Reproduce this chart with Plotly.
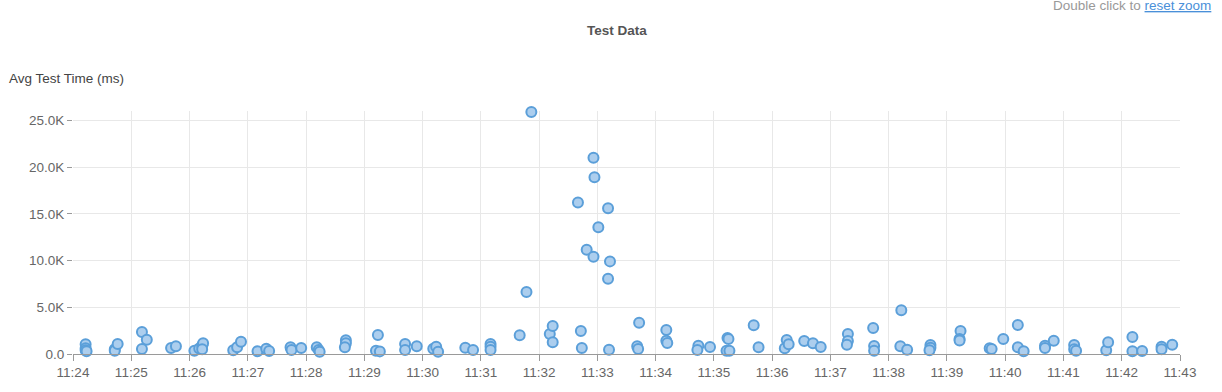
import plotly.graph_objects as go

DAY = "2024-01-01 "

times = [
    "11:24:13", "11:24:13", "11:24:13", "11:24:14", "11:24:43", "11:24:43", "11:24:46",
    "11:25:11", "11:25:16", "11:25:11", "11:25:41", "11:25:46",
    "11:26:05", "11:26:10", "11:26:13", "11:26:14", "11:26:13", "11:26:45", "11:26:49", "11:26:53",
    "11:27:10", "11:27:19", "11:27:22", "11:27:44", "11:27:45", "11:27:55",
    "11:28:11", "11:28:13", "11:28:14", "11:28:41", "11:28:41", "11:28:40",
    "11:29:14", "11:29:12", "11:29:16", "11:29:42", "11:29:42", "11:29:54",
    "11:30:11", "11:30:14", "11:30:16", "11:30:44", "11:30:52",
    "11:31:10", "11:31:10", "11:31:10", "11:31:40", "11:31:47", "11:31:52",
    "11:32:11", "11:32:14", "11:32:14", "11:32:40", "11:32:43", "11:32:44", "11:32:49",
    "11:32:56", "11:32:56", "11:32:57", "11:33:01", "11:33:11", "11:33:13", "11:33:11", "11:33:12",
    "11:33:43", "11:33:41", "11:33:42",
    "11:34:11", "11:34:11", "11:34:12", "11:34:44", "11:34:43", "11:34:56",
    "11:35:14", "11:35:15", "11:35:13", "11:35:16", "11:35:41", "11:35:46",
    "11:36:13", "11:36:15", "11:36:17", "11:36:33", "11:36:42", "11:36:50",
    "11:37:18", "11:37:18", "11:37:17", "11:37:44", "11:37:45", "11:37:45",
    "11:38:13", "11:38:12", "11:38:19", "11:38:43", "11:38:43", "11:38:42",
    "11:39:14", "11:39:13", "11:39:13", "11:39:44", "11:39:46", "11:39:58",
    "11:40:13", "11:40:13", "11:40:19", "11:40:41", "11:40:41", "11:40:50",
    "11:41:11", "11:41:11", "11:41:13", "11:41:44", "11:41:46",
    "11:42:11", "11:42:11", "11:42:21", "11:42:41", "11:42:41", "11:42:52",
]

avg_ms = [
    1040, 610, 400, 300, 500, 350, 1070,
    2350, 1530, 530, 640, 820,
    360, 600, 900, 1140, 500, 400, 710, 1320,
    290, 570, 320, 710, 430, 640,
    710, 430, 250, 1460, 1140, 710,
    2030, 360, 280, 1070, 430, 820,
    570, 780, 250, 680, 430,
    1070, 780, 430, 2000, 6630, 25900,
    2140, 3000, 1250, 16200, 2460, 640, 11150,
    10400, 21000, 18900, 13550, 15600, 9910, 8050, 460,
    3350, 820, 530,
    2570, 1430, 1180, 890, 430, 750,
    1710, 1600, 360, 360, 3070, 710,
    610, 1500, 1040, 1390, 1140, 750,
    2140, 1390, 1000, 2780, 860, 360,
    4670, 820, 460, 960, 680, 390,
    2460, 1600, 1450, 610, 530, 1600,
    3100, 710, 290, 890, 640, 1430,
    960, 500, 360, 390, 1250,
    1820, 290, 320, 780, 500, 1000,
]

x_tick_labels = ["11:%02d" % m for m in range(24, 44)]
y_tick_vals = [0, 5000, 10000, 15000, 20000, 25000]
y_tick_text = ["0.0", "5.0K", "10.0K", "15.0K", "20.0K", "25.0K"]

FONT = "Liberation Sans, Arial, sans-serif"

fig = go.Figure(
    go.Scatter(
        x=[DAY + t for t in times],
        y=avg_ms,
        mode="markers",
        cliponaxis=False,
        marker=dict(size=10, color="#acceee", line=dict(color="#5b9fd9", width=2)),
        hoverinfo="x+y",
    )
)

fig.update_layout(
    width=1222,
    height=392,
    margin=dict(l=73, r=42, t=111, b=38),
    paper_bgcolor="white",
    plot_bgcolor="white",
    showlegend=False,
    font=dict(family=FONT, color="#666666", size=13.5),
    xaxis=dict(
        range=[DAY + "11:24:00", DAY + "11:43:00"],
        tickvals=[DAY + t + ":00" for t in x_tick_labels],
        ticktext=x_tick_labels,
        showgrid=True,
        gridcolor="#e8e8e8",
        gridwidth=1,
        showline=True,
        linecolor="#9a9a9a",
        linewidth=1,
        ticks="outside",
        ticklen=6,
        tickcolor="#9a9a9a",
        tickfont=dict(size=13.5, color="#666666"),
        zeroline=False,
    ),
    yaxis=dict(
        range=[0, 26000],
        tickvals=y_tick_vals,
        ticktext=y_tick_text,
        showgrid=True,
        gridcolor="#e8e8e8",
        gridwidth=1,
        showline=False,
        zeroline=False,
        ticks="outside",
        ticklen=5,
        tickcolor="#9a9a9a",
        tickfont=dict(size=13.5, color="#666666"),
    ),
    annotations=[
        dict(text="<b>Test Data</b>", xref="paper", yref="paper",
             x=(617 - 73) / (1180 - 73), y=1, yshift=111 - 30, xanchor="center", yanchor="middle",
             showarrow=False, font=dict(size=13.5, color="#555555", family=FONT)),
        dict(text="Avg Test Time (ms)", xref="paper", yref="paper",
             x=0, xshift=7 - 73, y=1, yshift=111 - 78, xanchor="left", yanchor="middle",
             showarrow=False, font=dict(size=13.5, color="#444444", family=FONT)),
        dict(text="Double click to <span style='color:#4a90d9;text-decoration:underline'>reset zoom</span>",
             xref="paper", yref="paper",
             x=1, xshift=1213 - 1180, y=1, yshift=111 - 5, xanchor="right", yanchor="middle",
             showarrow=False, font=dict(size=13.5, color="#999999", family=FONT)),
    ],
)

fig.write_html("out.html")
